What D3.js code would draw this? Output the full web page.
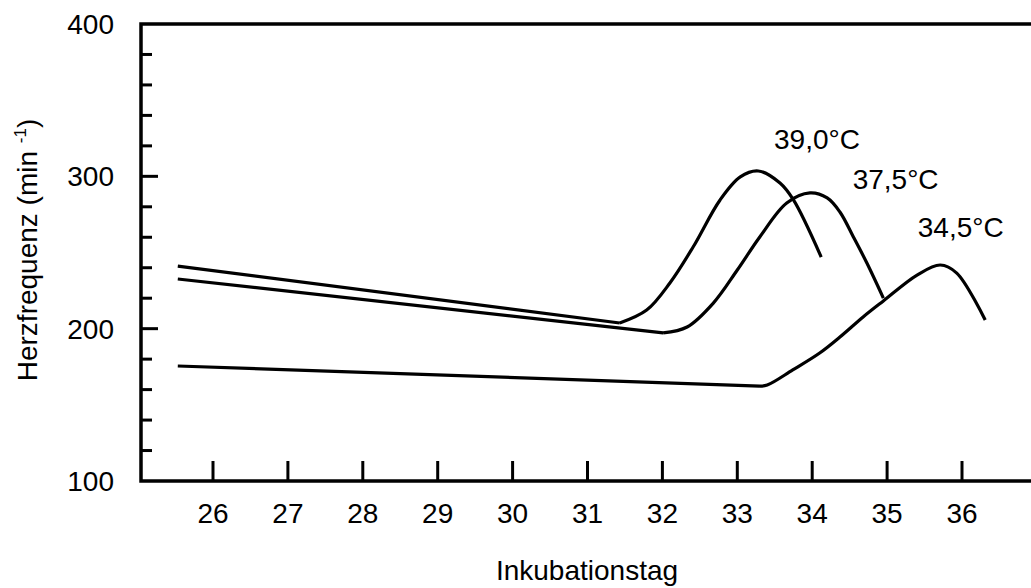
<!DOCTYPE html>
<html>
<head>
<meta charset="utf-8">
<script src="https://cdn.jsdelivr.net/npm/d3@7"></script>
<style>
  body { margin: 0; background: #fff; }
  text { font-family: "Liberation Sans", Arial, sans-serif; fill: #000; }
</style>
</head>
<body>
<svg id="graph" width="1031" height="588"></svg>
<script>
// data (Inkubationstag, Herzfrequenz)
const days = [26, 27, 28, 29, 30, 31, 32, 33, 34, 35, 36]
const yTicks = [100, 200, 300, 400]

const t390_x = [25.53, 31.43, 31.79, 32.10, 32.41, 32.77, 33.04, 33.28, 33.57, 33.75, 34.12]
const t390_y = [241.1, 203.7, 212.2, 230.0, 253.6, 284.5, 299.6, 303.5, 295.6, 284.5, 247.0]

const t375_x = [25.53, 32.01, 32.33, 32.68, 33.00, 33.30, 33.66, 33.97, 34.20, 34.37, 34.55, 34.73, 34.95]
const t375_y = [232.6, 197.2, 201.1, 216.8, 238.5, 260.2, 282.5, 289.1, 285.8, 276.6, 260.2, 243.1, 220.1]

const t345_x = [25.53, 33.30, 33.40, 33.74, 34.10, 34.37, 34.68, 34.95, 35.40, 35.71, 35.93, 36.31]
const t345_y = [175.5, 162.3, 163.0, 172.9, 184.0, 194.5, 207.7, 218.2, 235.2, 241.8, 236.5, 205.7]

const labels = ['39,0°C', '37,5°C', '34,5°C']
const labelDay = [33.49, 34.54, 35.41]
const labelVal = [317.9, 291.7, 260.2]

///////////////////////////////////////////////////

const svg = d3.select('#graph')
const mLeft = 141, mTop = 24, mBottom = 481, mRight = 1031

const x = d3.scaleLinear().domain([26, 36]).range([213, 962])
const y = d3.scaleLinear().domain([100, 400]).range([mBottom, mTop])

// frame
svg.append('path')
   .attr('d', `M${mRight},${mTop}H${mLeft}V${mBottom}H${mRight}`)
   .attr('fill', 'none').attr('stroke', '#000').attr('stroke-width', 3.5)

// y ticks: minor every 20, major every 100
d3.range(120, 400, 20).forEach(v => {
    const major = v % 100 === 0
    svg.append('line')
       .attr('x1', mLeft).attr('x2', mLeft + (major ? 17 : 11))
       .attr('y1', y(v)).attr('y2', y(v))
       .attr('stroke', '#000').attr('stroke-width', 3)
})

svg.selectAll('.ylab').data(yTicks).enter().append('text')
   .attr('class', 'ylab')
   .attr('x', 114).attr('y', d => y(d) + 10)
   .attr('text-anchor', 'end')
   .style('font-size', '28px')
   .text(d => d)

// x ticks
svg.selectAll('.xtick').data(days).enter().append('line')
   .attr('class', 'xtick')
   .attr('x1', d => x(d)).attr('x2', d => x(d))
   .attr('y1', mBottom).attr('y2', mBottom - 20)
   .attr('stroke', '#000').attr('stroke-width', 3)

svg.selectAll('.xlab').data(days).enter().append('text')
   .attr('class', 'xlab')
   .attr('x', d => x(d)).attr('y', 523)
   .attr('text-anchor', 'middle')
   .style('font-size', '28px')
   .text(d => d)

// axis titles
svg.append('text')
   .attr('x', 587).attr('y', 580)
   .attr('text-anchor', 'middle')
   .style('font-size', '28px')
   .text('Inkubationstag')

const ytitle = svg.append('text')
   .attr('transform', 'translate(37,250) rotate(-90)')
   .attr('text-anchor', 'middle')
   .style('font-size', '28px')
ytitle.append('tspan').text('Herzfrequenz (min ')
ytitle.append('tspan').attr('dy', -11).style('font-size', '17px').text('-1')
ytitle.append('tspan').attr('dy', 11).text(')')

// curves: straight decline, then a smooth peak
const straight = d3.line()
    .x(d => x(d[0])).y(d => y(d[1]))

const smooth = d3.line()
    .x(d => x(d[0])).y(d => y(d[1]))
    .curve(d3.curveCatmullRom.alpha(0.5))

const series = [
    d3.zip(t390_x, t390_y),
    d3.zip(t375_x, t375_y),
    d3.zip(t345_x, t345_y)
]

const path = d => straight(d.slice(0, 2)) + smooth(d.slice(1))

svg.selectAll('.curve').data(series).enter().append('path')
   .attr('class', 'curve')
   .attr('d', path)
   .attr('fill', 'none')
   .attr('stroke', '#000')
   .attr('stroke-width', 3.2)
   .attr('stroke-linejoin', 'round')

// curve labels
svg.selectAll('.clab').data(labels).enter().append('text')
   .attr('class', 'clab')
   .attr('x', (d, i) => x(labelDay[i]))
   .attr('y', (d, i) => y(labelVal[i]))
   .style('font-size', '28px')
   .text(d => d)
</script>
</body>
</html>
